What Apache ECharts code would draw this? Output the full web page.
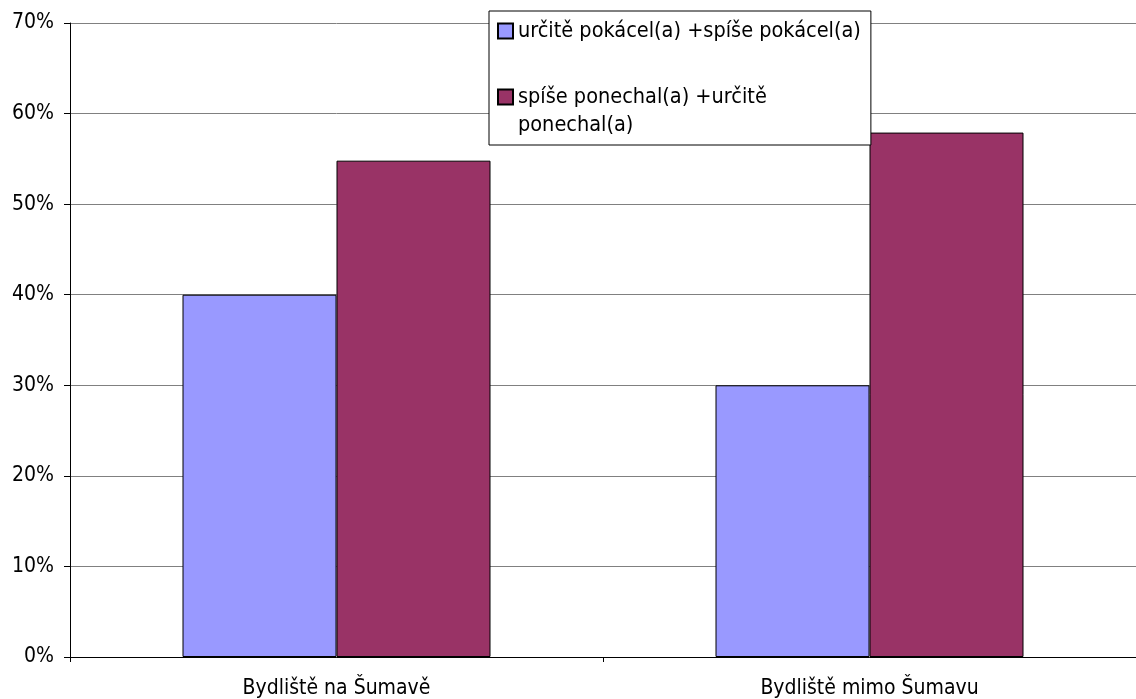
<!DOCTYPE html>
<html>
<head>
<meta charset="utf-8">
<script src="https://cdn.jsdelivr.net/npm/echarts@6/dist/echarts.min.js"></script>
<style>html,body{margin:0;padding:0;background:#fff;}#c{width:1136px;height:699px;}</style>
</head>
<body>
<div id="c"></div>
<script>
const categories = ['Bydliště na Šumavě', 'Bydliště mimo Šumavu'];
const seriesNames = ['určitě pokácel(a) +spíše pokácel(a)', 'spíše ponechal(a) +určitě ponechal(a)'];
const valuesCut = [40.0, 30.0];
const valuesKeep = [54.8, 57.9];
const yTicks = { min: 0, max: 70, interval: 10 };

const font = "'DejaVu Sans Condensed', 'DejaVu Sans'";
const chart = echarts.init(document.getElementById('c'), null, { renderer: 'canvas' });
chart.setOption({
  animation: false,
  backgroundColor: '#ffffff',
  textStyle: { fontFamily: font },
  grid: { left: 70, right: 0, top: 23, bottom: 42, containLabel: false },
  legend: {
    orient: 'vertical',
    left: 489,
    top: 11,
    padding: [6, 10, 6, 8],
    borderColor: '#000',
    borderWidth: 1,
    backgroundColor: '#fff',
    itemGap: 10,
    itemWidth: 15,
    itemHeight: 15,
    icon: 'rect',
    selectedMode: false,
    formatter: function (name) {
      // wrap the second entry after its first line and keep the marker beside line one
      return name === seriesNames[1] ? ' \n' + name.replace(/ (?=\S+$)/, '\n') : name;
    },
    textStyle: { fontFamily: font, fontSize: 21.5, color: '#000', lineHeight: 28 },
    data: [
      { name: seriesNames[0] },
      { name: seriesNames[1] }
    ]
  },
  xAxis: {
    type: 'category',
    data: categories,
    axisLine: { lineStyle: { color: '#000', width: 1 } },
    axisTick: { show: true, length: 5, lineStyle: { color: '#000' } },
    axisLabel: { fontFamily: font, fontSize: 21, color: '#000', margin: 21 },
    splitLine: { show: false }
  },
  yAxis: {
    type: 'value',
    min: yTicks.min, max: yTicks.max, interval: yTicks.interval,
    axisLine: { show: true, lineStyle: { color: '#000', width: 1 } },
    axisTick: { show: true, length: 6, lineStyle: { color: '#000' } },
    axisLabel: { fontFamily: font, fontSize: 21, color: '#000', margin: 16, formatter: '{value}%' },
    splitLine: { show: true, lineStyle: { color: '#808080', width: 1 } }
  },
  series: [
    {
      name: seriesNames[0], type: 'bar', data: valuesCut, barWidth: 154, barGap: '0%',
      itemStyle: { color: '#9999FF', borderColor: '#000', borderWidth: 1 }
    },
    {
      name: seriesNames[1], type: 'bar', data: valuesKeep, barWidth: 154, barGap: '0%',
      itemStyle: { color: '#993366', borderColor: '#000', borderWidth: 1 }
    }
  ]
});
</script>
</body>
</html>
